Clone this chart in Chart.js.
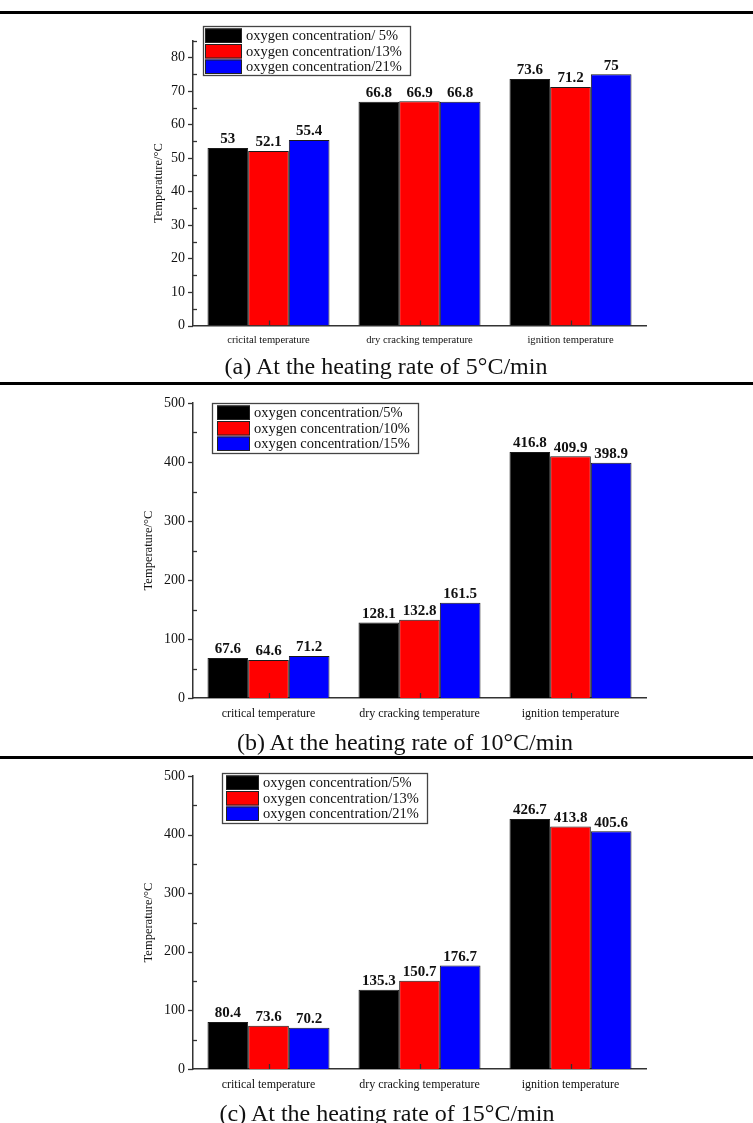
<!DOCTYPE html>
<html>
<head>
<meta charset="utf-8">
<script src="https://cdn.jsdelivr.net/npm/chart.js@4.4.1/dist/chart.umd.min.js"></script>
<style>
  html, body { margin: 0; padding: 0; background: #fff; }
  body { width: 753px; height: 1123px; position: relative; overflow: hidden;
         font-family: "Liberation Serif", "Times New Roman", serif; }
  .rule { position: absolute; left: 0; width: 753px; height: 3px; background: #000; }
  .panel { position: absolute; left: 0; width: 753px; }
  .panel canvas { display: block; }
  .caption { position: absolute; width: 753px; text-align: center; font-size: 24px;
             line-height: 1; color: #111; white-space: nowrap; }
</style>
</head>
<body>
<div class="rule" style="top:11px"></div>
<div class="panel" style="top:14px;height:340px"><canvas id="chartA" width="753" height="340"></canvas></div>
<div class="caption" style="top:354px;left:9.5px">(a) At the heating rate of 5°C/min</div>

<div class="rule" style="top:382px"></div>
<div class="panel" style="top:385px;height:345px"><canvas id="chartB" width="753" height="345"></canvas></div>
<div class="caption" style="top:730px;left:28.5px">(b) At the heating rate of 10°C/min</div>

<div class="rule" style="top:756px"></div>
<div class="panel" style="top:759px;height:342px"><canvas id="chartC" width="753" height="342"></canvas></div>
<div class="caption" style="top:1101px;left:10.5px">(c) At the heating rate of 15°C/min</div>

<script>
// ---- data ----
const categoriesA = ["cricital temperature", "dry cracking temperature", "ignition temperature"];
const categoriesBC = ["critical temperature", "dry cracking temperature", "ignition temperature"];

const legendA = ["oxygen concentration/ 5%", "oxygen concentration/13%", "oxygen concentration/21%"];
const legendB = ["oxygen concentration/5%", "oxygen concentration/10%", "oxygen concentration/15%"];
const legendC = ["oxygen concentration/5%", "oxygen concentration/13%", "oxygen concentration/21%"];

// 5 °C/min
const rate5_low  = [53, 66.8, 73.6];
const rate5_mid  = [52.1, 66.9, 71.2];
const rate5_high = [55.4, 66.8, 75];
// 10 °C/min
const rate10_low  = [67.6, 128.1, 416.8];
const rate10_mid  = [64.6, 132.8, 409.9];
const rate10_high = [71.2, 161.5, 398.9];
// 15 °C/min
const rate15_low  = [80.4, 135.3, 426.7];
const rate15_mid  = [73.6, 150.7, 413.8];
const rate15_high = [70.2, 176.7, 405.6];

const yTicksA = { max: 85, step: 10, minor: 5 };
const yTicksBC = { max: 500, step: 100, minor: 50 };

// ---- styling ----
const SERIF = '"Liberation Serif", "Times New Roman", serif';
const barColors = ["#000000", "#ff0000", "#0000ff"];
const AXIS_COLOR = "#333333";
const TEXT_COLOR = "#111111";

// Inward/outward axis ticks, legend box and value labels
const decorPlugin = {
  id: "decor",
  afterDraw(chart, args, opts) {
    const ctx = chart.ctx;
    const xs = chart.scales.x, ys = chart.scales.y;
    const area = chart.chartArea;
    ctx.save();
    ctx.strokeStyle = AXIS_COLOR;
    ctx.lineWidth = 1.3;
    // y major ticks (outward) and minor ticks (inward)
    for (let v = 0; v <= ys.max + 1e-9; v += opts.minor) {
      const y = Math.round(ys.getPixelForValue(v)) + 0.5;
      const isMajor = Math.abs(v / opts.step - Math.round(v / opts.step)) < 1e-6;
      ctx.beginPath();
      if (isMajor) { ctx.moveTo(area.left - 5, y); ctx.lineTo(area.left, y); }
      else { ctx.moveTo(area.left, y); ctx.lineTo(area.left + 4, y); }
      ctx.stroke();
    }
    // x ticks at category centres (inward)
    for (let i = 0; i < chart.data.labels.length; i++) {
      const x = Math.round(xs.getPixelForValue(i)) + 0.5;
      ctx.beginPath();
      ctx.moveTo(x, area.bottom);
      ctx.lineTo(x, area.bottom - 5);
      ctx.stroke();
    }
    // legend
    const L = opts.legend;
    ctx.fillStyle = "#ffffff";
    ctx.fillRect(L.x, L.y, L.w, L.h);
    ctx.strokeStyle = "#444";
    ctx.lineWidth = 1.3;
    ctx.strokeRect(L.x + 0.5, L.y + 0.5, L.w, L.h);
    ctx.font = `${L.font}px ${SERIF}`;
    ctx.textBaseline = "middle";
    ctx.textAlign = "left";
    chart.data.datasets.forEach((ds, i) => {
      const ry = L.y + L.rowTop + i * L.pitch;
      ctx.fillStyle = ds.backgroundColor;
      ctx.fillRect(L.swX, ry, L.swW, L.swH);
      ctx.strokeStyle = "#222";
      ctx.lineWidth = 1;
      ctx.strokeRect(L.swX + 0.5, ry + 0.5, L.swW - 1, L.swH - 1);
      ctx.fillStyle = TEXT_COLOR;
      ctx.fillText(ds.label, L.textX, ry + L.swH / 2 + 0.5);
    });
    ctx.restore();
  },
  afterDatasetsDraw(chart, args, opts) {
    const ctx = chart.ctx;
    ctx.save();
    ctx.font = `bold ${opts.valueFont}px ${SERIF}`;
    ctx.fillStyle = TEXT_COLOR;
    ctx.textAlign = "center";
    ctx.textBaseline = "bottom";
    chart.data.datasets.forEach((ds, di) => {
      const meta = chart.getDatasetMeta(di);
      meta.data.forEach((bar, i) => {
        ctx.fillText(String(ds.data[i]), bar.x, bar.y - 1);
      });
    });
    ctx.restore();
  }
};

function buildChart(id, cfg) {
  const datasets = cfg.series.map((vals, i) => ({
    label: cfg.legendLabels[i],
    data: vals,
    backgroundColor: barColors[i],
    borderColor: "#1a1a1a",
    borderWidth: 1,
    categoryPercentage: 0.808,
    barPercentage: 1.0
  }));
  return new Chart(document.getElementById(id), {
    type: "bar",
    data: { labels: cfg.labels, datasets },
    options: {
      responsive: false,
      animation: false,
      devicePixelRatio: 1,
      layout: { padding: { left: 140, right: 107, top: cfg.padTop, bottom: 0 } },
      plugins: {
        legend: { display: false },
        tooltip: { enabled: false },
        decor: {
          step: cfg.ticks.step, minor: cfg.ticks.minor,
          legend: cfg.legendBox, valueFont: 15
        }
      },
      scales: {
        x: {
          grid: { display: false, drawTicks: false },
          border: { display: true, color: AXIS_COLOR, width: 1.5 },
          ticks: { font: { family: SERIF, size: cfg.xFont }, color: TEXT_COLOR,
                   padding: cfg.xPad, maxRotation: 0, autoSkip: false },
          afterFit: s => { s.height = cfg.xHeight; }
        },
        y: {
          min: 0, max: cfg.ticks.max,
          grid: { display: false, drawTicks: false },
          border: { display: true, color: AXIS_COLOR, width: 1.5 },
          ticks: { stepSize: cfg.ticks.step, includeBounds: false, padding: 8,
                   font: { family: SERIF, size: 14 }, color: TEXT_COLOR },
          title: { display: true, text: "Temperature/°C", color: TEXT_COLOR,
                   font: { family: SERIF, size: 12.5 }, padding: { top: cfg.titlePad, bottom: 0 } },
          afterFit: s => { s.width = 53; }
        }
      }
    },
    plugins: [decorPlugin]
  });
}

buildChart("chartA", {
  labels: categoriesA, legendLabels: legendA,
  series: [rate5_low, rate5_mid, rate5_high],
  ticks: yTicksA, padTop: 26.7, xHeight: 28.5, xFont: 10.6, xPad: 8, titlePad: 11,
  legendBox: { x: 203, y: 12, w: 207, h: 49, rowTop: 2.5, pitch: 15.5,
               swX: 205, swW: 37, swH: 14.5, textX: 246, font: 14.5 }
});

buildChart("chartB", {
  labels: categoriesBC, legendLabels: legendB,
  series: [rate10_low, rate10_mid, rate10_high],
  ticks: yTicksBC, padTop: 18, xHeight: 32, xFont: 12, xPad: 9, titlePad: 1,
  legendBox: { x: 212, y: 18, w: 206, h: 50, rowTop: 2.5, pitch: 15.5,
               swX: 217, swW: 33, swH: 14.5, textX: 254, font: 14.5 }
});

buildChart("chartC", {
  labels: categoriesBC, legendLabels: legendC,
  series: [rate15_low, rate15_mid, rate15_high],
  ticks: yTicksBC, padTop: 17, xHeight: 32, xFont: 12, xPad: 9, titlePad: 1,
  legendBox: { x: 222, y: 14, w: 205, h: 50, rowTop: 2.5, pitch: 15.5,
               swX: 226, swW: 33, swH: 14.5, textX: 263, font: 14.5 }
});
</script>
</body>
</html>
